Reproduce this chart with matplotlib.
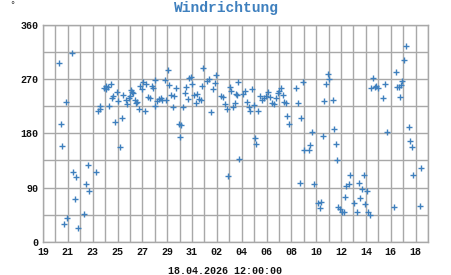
import matplotlib
matplotlib.use("Agg")
import matplotlib.pyplot as plt
import matplotlib.dates as mdates
from matplotlib.ticker import MultipleLocator
import datetime as dt
import numpy as np

# Data: time offsets in days from 2026-03-19 00:00, wind direction in degrees
days = [
    1.29, 2.33, 1.83, 1.45, 1.56, 2.42, 2.69, 3.60, 3.44, 3.70, 4.30, 2.58, 3.33, 1.96, 1.67, 2.82,
    4.46, 4.62, 4.62, 4.89, 5.05, 5.10, 5.27, 5.45, 5.31, 5.56, 5.64, 5.80, 5.99, 6.07, 6.18, 6.34,
    6.47, 6.66, 6.74, 6.90, 6.98, 7.14, 7.06, 7.25, 7.38, 7.46, 7.60, 7.71, 7.79, 7.95, 8.05, 8.19,
    8.32, 8.49, 8.59, 8.75, 8.86, 8.99, 9.02, 9.18, 9.32, 9.48, 9.61, 9.80, 9.88, 10.04, 10.14, 10.31,
    10.47, 10.58, 10.74, 10.93, 11.14, 11.06, 11.27, 11.41, 11.55, 11.70, 11.79, 11.92, 12.03, 12.19,
    12.29, 12.43, 12.56, 12.70, 12.78, 12.91, 13.20, 13.37, 13.56, 13.66, 13.82, 13.96, 14.33, 14.49,
    14.63, 14.79, 14.93, 15.03, 15.11, 15.30, 15.43, 15.51, 15.70, 15.65, 15.76,
    16.10, 16.24, 16.43, 16.56, 16.70, 16.83, 16.96, 17.07, 17.18, 17.34, 17.50, 17.67, 17.79, 17.99,
    18.09, 18.25, 18.41, 18.58, 18.74, 18.90, 19.00, 19.19, 19.32, 19.43, 19.57, 19.68, 19.81, 20.40,
    20.56, 20.69, 20.77, 20.93, 21.05, 21.42, 21.50, 21.69, 21.82, 22.17, 22.41, 22.28, 22.54, 22.76,
    22.95, 23.00, 22.66, 23.32, 23.43, 23.57, 23.67, 23.78, 23.89, 24.05, 24.21, 24.29, 24.43, 24.61,
    24.72, 25.01, 25.31, 25.44, 25.56, 25.66, 25.85, 25.96, 26.06, 26.20, 26.33, 26.38, 26.57, 26.73,
    26.84, 26.97, 27.41, 27.54, 27.73, 28.26, 28.45, 28.53, 28.72, 28.70, 28.86, 28.94, 29.05, 29.21,
    29.45, 29.53, 29.69, 29.79, 30.33, 30.44,
]
direction = [
    296, 314, 232, 196, 159, 115, 107, 127, 95, 84, 116, 71, 46, 40, 30, 23,
    217, 221, 225, 255, 258, 254, 257, 262, 226, 239, 242, 199, 249, 234, 158, 206,
    243, 235, 229, 238, 242, 248, 252, 247, 236, 230, 232, 220, 258, 254, 266, 217,
    262, 240, 238, 258, 255, 269, 225, 234, 237, 239, 236, 268, 235, 285, 261, 244,
    224, 242, 255, 195, 194, 174, 224, 247, 257, 237, 271, 274, 262, 244,
    230, 246, 237, 235, 259, 289, 267, 270, 216, 253, 263, 277, 242, 240,
    229, 221, 109, 257, 250, 223, 231, 246, 265, 243, 137,
    246, 250, 232, 223, 217, 253, 227, 172, 162, 217, 242, 235, 238, 242,
    248, 240, 230, 229, 238, 247, 251, 256, 243, 232, 230, 209, 195, 256,
    230, 98, 205, 265, 152, 153, 161, 182, 95, 65, 66, 56, 175, 262,
    278, 270, 234, 235, 187, 162, 136, 57, 54, 50, 50, 75, 93, 95,
    111, 64, 49, 98, 73, 87, 111, 62, 84, 50, 45, 256, 271, 257,
    259, 256, 239, 262, 182, 58, 281, 257, 241, 257, 260, 267, 301, 325,
    191, 167, 158, 110, 59, 123,
]
yticks = [0, 90, 180, 270, 360]
title = "Windrichtung"
subtitle = "18.04.2026 12:00:00"
unit = "°"

start = dt.datetime(2026, 3, 19)
end = dt.datetime(2026, 4, 19)
x = mdates.date2num(start) + np.array(days)

W, H = 451, 275
fig = plt.figure(figsize=(W / 100, H / 100), dpi=100)
ax = fig.add_axes([43 / W, 1 - 241.7 / H, (428 - 43) / W, (241.7 - 24.9) / H])

blue = "#3f80be"
grey = "#a8a8a8"
mono = "Liberation Mono"

ax.plot(x, direction, linestyle="none", marker="+", markersize=4.8, mew=1.0, color=blue)

ax.set_xlim(mdates.date2num(start), mdates.date2num(end))
ax.set_ylim(0, 360)
ax.set_yticks(yticks)
ax.yaxis.set_minor_locator(MultipleLocator(45))
ax.xaxis.set_major_locator(mdates.DayLocator(interval=2))
ax.xaxis.set_major_formatter(mdates.DateFormatter("%d"))
ax.xaxis.set_minor_locator(mdates.DayLocator())

ax.grid(True, which="both", color=grey, linewidth=1.0)
ax.set_axisbelow(True)
for s in ax.spines.values():
    s.set_color(grey)
    s.set_linewidth(1.0)

ax.tick_params(which="both", length=0)
ax.tick_params(axis="y", pad=3.5)
ax.tick_params(axis="x", pad=4)
for lab in ax.get_xticklabels() + ax.get_yticklabels():
    lab.set_fontfamily(mono)
    lab.set_fontweight("bold")
    lab.set_fontsize(7.2)
    lab.set_color("#111111")

fig.text(226 / W, 1 - 8 / H, title, ha="center", va="center", fontsize=10.5,
         fontfamily=mono, fontweight="bold", color=blue)
fig.text(225.5 / W, 1 - 270.5 / H, subtitle, ha="center", va="center", fontsize=7.2,
         fontfamily=mono, fontweight="bold", color="#111111")
fig.text(12 / W, 1 - 6 / H, unit, ha="center", va="center", fontsize=6,
         fontfamily="DejaVu Sans", color="#333333")

fig.savefig("out.png", dpi=100)
